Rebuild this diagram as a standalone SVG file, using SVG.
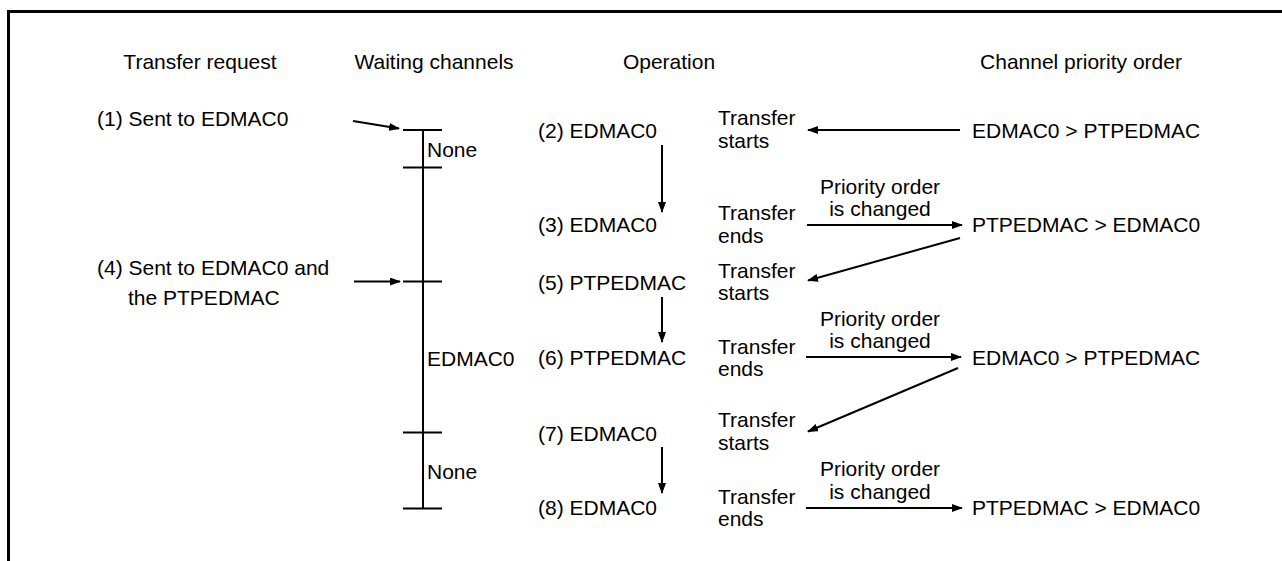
<svg xmlns="http://www.w3.org/2000/svg" width="1282" height="561" viewBox="0 0 1282 561">
<style>
text{font-family:"Liberation Sans",Arial,sans-serif;font-size:21px;fill:#000}
.mid{text-anchor:middle}
.ln{stroke:#000;stroke-width:2;fill:none}
.ar{stroke:#000;stroke-width:2;fill:none;marker-end:url(#ah)}
.frame{stroke:#000;stroke-width:3;fill:none}
</style>
<defs>
<marker id="ah" viewBox="0 0 11 8" refX="10" refY="4" markerWidth="11" markerHeight="8" markerUnits="userSpaceOnUse" orient="auto">
<path d="M0,0 L11,4 L0,8 z" fill="#000"/>
</marker>
</defs>
<rect width="1282" height="561" fill="#fff"/>
<path class="frame" d="M8.5,561 V11.5 H1282"/>

<g id="headers">
<text class="mid" x="200" y="69">Transfer request</text>
<text class="mid" x="434" y="69">Waiting channels</text>
<text class="mid" x="669" y="69">Operation</text>
<text class="mid" x="1081" y="69">Channel priority order</text>
</g>

<g id="req1"><text x="97" y="126">(1) Sent to EDMAC0</text></g>
<g id="req4"><text x="97" y="274.5">(4) Sent to EDMAC0 and</text><text x="128" y="305">the PTPEDMAC</text></g>

<g id="waiting">
<line class="ln" x1="423" y1="130" x2="423" y2="508.5"/>
<line class="ln" x1="403" y1="130" x2="442" y2="130"/>
<line class="ln" x1="403" y1="167.5" x2="442" y2="167.5"/>
<line class="ln" x1="403" y1="281.5" x2="442" y2="281.5"/>
<line class="ln" x1="403" y1="432.5" x2="442" y2="432.5"/>
<line class="ln" x1="403" y1="508.5" x2="442" y2="508.5"/>
<text x="427" y="157">None</text>
<text x="427" y="365.5">EDMAC0</text>
<text x="427" y="479">None</text>
</g>

<g id="op2"><text x="538" y="138">(2) EDMAC0</text><text x="718" y="125">Transfer</text><text x="718" y="148">starts</text></g>
<g id="op3"><text x="538" y="231.5">(3) EDMAC0</text><text x="718" y="219.5">Transfer</text><text x="718" y="242.5">ends</text></g>
<g id="op5"><text x="538" y="289.5">(5) PTPEDMAC</text><text x="718" y="277.5">Transfer</text><text x="718" y="300">starts</text></g>
<g id="op6"><text x="538" y="364.5">(6) PTPEDMAC</text><text x="718" y="353.5">Transfer</text><text x="718" y="376">ends</text></g>
<g id="op7"><text x="538" y="440.5">(7) EDMAC0</text><text x="718" y="427">Transfer</text><text x="718" y="450">starts</text></g>
<g id="op8"><text x="538" y="514.5">(8) EDMAC0</text><text x="718" y="504">Transfer</text><text x="718" y="526">ends</text></g>

<g id="prio1"><text x="972" y="138">EDMAC0 &gt; PTPEDMAC</text></g>
<g id="prio2"><text x="972" y="231.5">PTPEDMAC &gt; EDMAC0</text></g>
<g id="prio3"><text x="972" y="364.5">EDMAC0 &gt; PTPEDMAC</text></g>
<g id="prio4"><text x="972" y="514.5">PTPEDMAC &gt; EDMAC0</text></g>

<g id="labels">
<text class="mid" x="880" y="193.5">Priority order</text>
<text class="mid" x="880" y="215.5">is changed</text>
<text class="mid" x="880" y="325.5">Priority order</text>
<text class="mid" x="880" y="348">is changed</text>
<text class="mid" x="880" y="476">Priority order</text>
<text class="mid" x="880" y="499">is changed</text>
</g>

<g id="connectors">
<line class="ar" x1="353" y1="121" x2="399" y2="128.5"/>
<line class="ar" x1="354" y1="281.5" x2="400" y2="281.5"/>
<line class="ar" x1="662" y1="145" x2="662" y2="212"/>
<line class="ar" x1="662" y1="297" x2="662" y2="342"/>
<line class="ar" x1="662" y1="447" x2="662" y2="493"/>
<line class="ar" x1="960" y1="130" x2="808" y2="130"/>
<line class="ar" x1="807" y1="225" x2="962" y2="225"/>
<line class="ar" x1="960" y1="238" x2="808" y2="280.5"/>
<line class="ar" x1="806" y1="357" x2="961" y2="357"/>
<line class="ar" x1="958" y1="368" x2="808" y2="431.5"/>
<line class="ar" x1="806" y1="508" x2="962" y2="508"/>
</g>
</svg>
